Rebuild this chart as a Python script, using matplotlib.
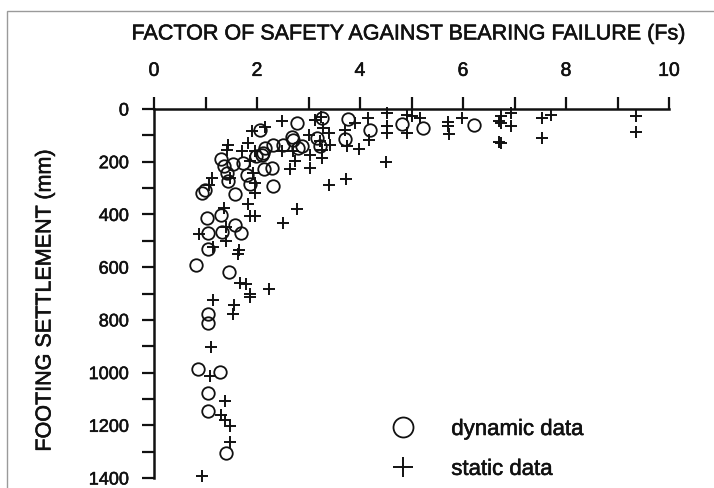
import matplotlib
matplotlib.use("Agg")
import matplotlib.pyplot as plt
from matplotlib.patches import Rectangle
import matplotlib.patheffects as pe

plt.rcParams['font.family'] = ['Liberation Sans', 'DejaVu Sans']

# dynamic data (circles): factor of safety, settlement (mm)
dyn_fs = [0.82, 0.86, 1.29, 1.05, 1.04, 1.40, 1.05, 1.04, 1.46, 1.05, 1.04, 1.33, 1.68,
          1.57, 1.02, 1.30, 0.93, 0.99, 1.57, 1.42, 1.44, 1.31, 1.36, 1.54, 1.73, 1.80,
          1.86, 2.14, 2.30, 2.32, 2.09, 2.16, 2.32, 2.51, 2.67, 2.80, 2.70, 2.06, 2.77,
          3.26, 3.16, 2.87, 3.22, 3.77, 3.70, 4.19, 4.81, 5.23, 6.21, 1.99, 2.12]
dyn_mm = [592, 987, 997, 1079, 1145, 1306, 777, 812, 620, 531, 471, 468, 471,
          440, 414, 402, 320, 307, 322, 242, 275, 191, 218, 210, 206, 250,
          284, 229, 225, 292, 173, 147, 137, 135, 105, 147, 116, 78, 53,
          34, 110, 141, 141, 38, 113, 78, 57, 72, 60, 179, 166]

# static data (plus signs)
sta_fs = [1.11, 1.09, 1.38, 1.30, 1.38, 1.48, 1.48, 0.93, 2.51, 0.88, 1.40, 1.40, 1.14,
          1.66, 1.64, 1.67, 1.79, 1.86, 1.86, 2.24, 1.14, 1.56, 1.54, 1.12, 1.48, 1.83,
          1.96, 1.96, 1.86, 1.96, 1.35, 1.07, 1.90, 1.83, 1.44, 1.41, 1.70, 1.96, 1.86,
          2.48, 3.39, 3.22, 3.26, 3.26, 3.00, 3.03, 3.03, 2.70, 2.74, 2.48, 1.93, 2.64,
          3.39, 2.78, 3.24, 3.90, 4.16, 4.17, 4.52, 4.52, 4.52, 4.91, 4.91, 5.00, 5.17,
          5.70, 5.71, 5.73, 5.99, 6.69, 6.69, 4.50, 3.73, 3.99, 3.74, 3.70, 3.28, 6.73,
          6.73, 6.93, 6.93, 6.73, 7.53, 7.70, 7.53, 9.36, 9.36, 2.16, 3.13, 3.42]
sta_mm = [903, 1014, 1107, 1161, 1180, 1203, 1262, 1394, 431, 475, 447, 500, 525,
          536, 551, 661, 664, 701, 714, 683, 724, 742, 779, 261, 261, 361,
          280, 317, 405, 405, 374, 290, 84, 128, 135, 154, 160, 160, 198,
          47, 91, 122, 154, 185, 97, 173, 223, 160, 198, 160, 242, 229,
          288, 380, 30, 53, 34, 116, 17, 65, 91, 21, 91, 28, 34,
          50, 65, 93, 34, 124, 45, 200, 264, 150, 141, 78, 72, 28,
          53, 15, 65, 128, 34, 21, 110, 28, 88, 68, 40, 135]

x_ticks = [0, 2, 4, 6, 8, 10]
y_ticks = [0, 200, 400, 600, 800, 1000, 1200, 1400]

ink = '#111111'
heavy = [pe.withStroke(linewidth=0.4, foreground=ink)]

fig = plt.figure(figsize=(7.14, 4.89), dpi=100)
fig.patches.append(Rectangle((7/714, -0.05), 1.2, 1 - 12/489 + 0.05, transform=fig.transFigure,
                             fill=False, edgecolor='#9a9a9a', linewidth=1.0))
ax = fig.add_axes([154/714, 10/489, 515/714, 369/489])

ax.plot(dyn_fs, dyn_mm, linestyle='none', marker='o', markersize=9, markerfacecolor='none',
        markeredgecolor=ink, markeredgewidth=1.3, label='dynamic data', clip_on=False)
ax.plot(sta_fs, sta_mm, linestyle='none', marker='+', markersize=9,
        markeredgecolor=ink, markeredgewidth=1.4, label='static data', clip_on=False)

ax.set_xlim(0, 10)
ax.set_ylim(1400, 0)
ax.xaxis.tick_top()
ax.set_xticks(x_ticks)
ax.set_xticks(range(0, 11), minor=True)
ax.set_yticks(y_ticks)
ax.set_yticks(range(0, 1401, 100), minor=True)
ax.tick_params(axis='both', which='both', direction='out', width=1.6, length=9, color=ink)
ax.tick_params(axis='x', which='major', labelsize=14, pad=12, labelcolor=ink)
ax.tick_params(axis='y', which='major', labelsize=13, pad=9, labelcolor=ink)
ax.tick_params(axis='x', which='minor', top=True)
for lab in ax.get_xticklabels() + ax.get_yticklabels():
    lab.set_path_effects(heavy)
for s in ['right', 'bottom']:
    ax.spines[s].set_visible(False)
for s in ['left', 'top']:
    ax.spines[s].set_linewidth(1.8)
    ax.spines[s].set_color(ink)

fig.text(408/714, 1 - 35/489, 'FACTOR OF SAFETY AGAINST BEARING FAILURE (Fs)',
         ha='center', va='center', fontsize=15.5, color=ink, path_effects=heavy)
fig.text(45/714, 1 - 302/489, 'FOOTING SETTLEMENT (mm)', rotation=90,
         ha='center', va='center', fontsize=15.5, color=ink, path_effects=heavy)

leg = ax.legend(loc='upper left', bbox_to_anchor=(0.4146, 0.19), frameon=False, fontsize=16,
                markerscale=1.6, handlelength=2.2, handletextpad=1.07, labelspacing=0.85,
                borderpad=0)
for t in leg.get_texts():
    t.set_color(ink)
    t.set_path_effects(heavy)

fig.savefig('out.png', dpi=100)
